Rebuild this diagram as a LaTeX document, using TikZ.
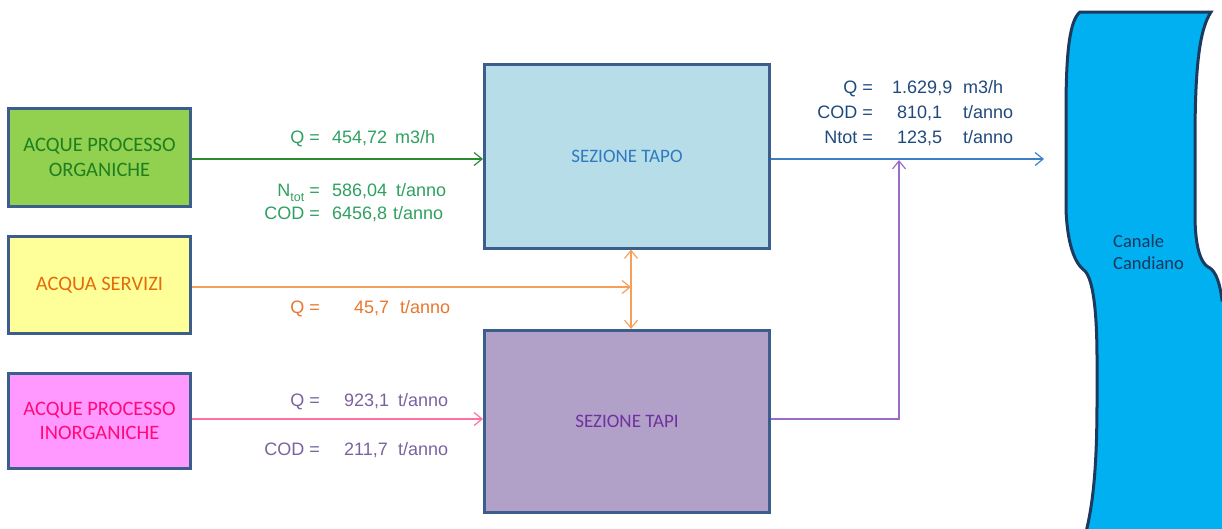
\documentclass[tikz,border=0pt]{standalone}
\usepackage{fontspec}
\usetikzlibrary{arrows.meta}
\newfontfamily\calfont{Carlito}
\newfontfamily\labfont{Liberation Sans}
\definecolor{boxborder}{HTML}{3B5E8C}
\definecolor{orgfill}{HTML}{92D050}
\definecolor{orgtext}{HTML}{1F7F1F}
\definecolor{servfill}{HTML}{FFFF99}
\definecolor{servtext}{HTML}{E46C0A}
\definecolor{inorgfill}{HTML}{FF99FF}
\definecolor{inorgtext}{HTML}{FF0A78}
\definecolor{tapofill}{HTML}{B7DDE8}
\definecolor{tapotext}{HTML}{2E7BC0}
\definecolor{tapifill}{HTML}{B1A0C7}
\definecolor{tapitext}{HTML}{7030A0}
\definecolor{canalfill}{HTML}{00B0F0}
\definecolor{canalborder}{HTML}{1C3A5E}
\definecolor{canaltext}{HTML}{17375E}
\definecolor{greenline}{HTML}{2B8A2B}
\definecolor{greenlab}{HTML}{2FA060}
\definecolor{orangeline}{HTML}{F5A05A}
\definecolor{orangelab}{HTML}{E8772E}
\definecolor{pinkline}{HTML}{FF6FA0}
\definecolor{pinklab}{HTML}{7A62A0}
\definecolor{outline}{HTML}{3C7FC4}
\definecolor{outlab}{HTML}{1F497D}
\definecolor{purpleline}{HTML}{9B6BC9}
\begin{document}
\begin{tikzpicture}[x=1pt,y=-1pt,
  box/.style={draw=boxborder, line width=3pt, inner sep=0pt, align=center},
  srcfont/.style={font=\calfont\fontsize{20.5}{24.5}\selectfont},
  secfont/.style={font=\calfont\fontsize{19}{22}\selectfont},
  lab/.style={inner sep=0pt, font=\labfont\fontsize{18}{21}\selectfont},
  flow/.style={line width=1.2pt, -{Straight Barb[length=8pt,width=13pt]}},
  dflow/.style={line width=1.2pt, {Straight Barb[length=8pt,width=13pt]}-{Straight Barb[length=8pt,width=13pt]}}]
\useasboundingbox (0,0) rectangle (1222,528);
% canal
\draw[fill=canalfill, draw=canalborder, line width=3pt]
  (1080,12) -- (1211,12)
  .. controls (1199,30) and (1195,70) .. (1195,140) -- (1195,215)
  .. controls (1195,245) and (1200,262) .. (1208,267)
  .. controls (1213,269) and (1219,276) .. (1222,300)
  -- (1226,300) -- (1226,532) -- (1086,532)
  .. controls (1094,500) and (1097,460) .. (1097,400) -- (1097,360)
  .. controls (1097,310) and (1093,280) .. (1085,271)
  .. controls (1081,268) and (1068,258) .. (1066,210) -- (1066,110)
  .. controls (1066,50) and (1070,20) .. (1080,12) -- cycle;
\node[anchor=base west, inner sep=0pt, text=canaltext, font=\calfont\fontsize{18.5}{22}\selectfont] (cn1) at (1113,247) {Canale};
\node[anchor=base west, inner sep=0pt, text=canaltext, font=\calfont\fontsize{18.5}{22}\selectfont] (cn2) at (1113,269) {Candiano};
% boxes
\node[box, srcfont, fill=orgfill, text=orgtext, minimum width=182pt, minimum height=98pt] (org) at (99.5,157.5) {ACQUE PROCESSO\\ORGANICHE};
\node[box, srcfont, fill=servfill, text=servtext, minimum width=182pt, minimum height=97pt] (serv) at (99.5,285) {ACQUA SERVIZI};
\node[box, srcfont, fill=inorgfill, text=inorgtext, minimum width=182pt, minimum height=95pt] (inorg) at (99.5,421) {ACQUE PROCESSO\\INORGANICHE};
\node[box, secfont, fill=tapofill, text=tapotext, minimum width=285pt, minimum height=184pt] (tapo) at (627,156) {SEZIONE TAPO};
\node[box, secfont, fill=tapifill, text=tapitext, minimum width=285pt, minimum height=182pt] (tapi) at (627,421.5) {SEZIONE TAPI};
% coordinates
\coordinate (vx) at (631,288);
\coordinate (outend) at (1044,159);
\coordinate (jn) at (899,160);
% connectors
\draw[flow, greenline] ([yshift=-1.5pt]org.east) -- ([yshift=-1.5pt]org.east -| tapo.west);
\draw[flow, orangeline] ([yshift=-2pt]serv.east) -- ([yshift=-2pt]serv.east -| vx);
\draw[dflow, orangeline] (tapo.south -| vx) -- (tapi.north -| vx);
\draw[flow, pinkline] ([yshift=2pt]inorg.east) -- ([yshift=2pt]inorg.east -| tapi.west);
\draw[flow, outline] (tapo.east |- outend) -- (outend);
\draw[flow, purpleline] ([yshift=2.5pt]tapi.east) -| (jn);
% organic labels
\node[lab, text=greenlab, anchor=base east] (a1) at (320,143) {Q =};
\node[lab, text=greenlab, anchor=base west] (a2) at (332,143) {454,72};
\node[lab, text=greenlab, anchor=base west] (a3) at (395,143) {m3/h};
\node[lab, text=greenlab, anchor=base east] (a4) at (320,196) {N\raisebox{-0.28em}{\fontsize{12.5}{12.5}\selectfont tot} =};
\node[lab, text=greenlab, anchor=base west] (a5) at (332,196) {586,04};
\node[lab, text=greenlab, anchor=base west] (a6) at (396,196) {t/anno};
\node[lab, text=greenlab, anchor=base east] (a7) at (320,219) {COD =};
\node[lab, text=greenlab, anchor=base west] (a8) at (332,219) {6456,8};
\node[lab, text=greenlab, anchor=base west] (a9) at (393,219) {t/anno};
% service labels
\node[lab, text=orangelab, anchor=base east] (b1) at (320,313) {Q =};
\node[lab, text=orangelab, anchor=base west] (b2) at (354,313) {45,7};
\node[lab, text=orangelab, anchor=base west] (b3) at (400,313) {t/anno};
% inorganic labels
\node[lab, text=pinklab, anchor=base east] (c1) at (320,406) {Q =};
\node[lab, text=pinklab, anchor=base west] (c2) at (344,406) {923,1};
\node[lab, text=pinklab, anchor=base west] (c3) at (398,406) {t/anno};
\node[lab, text=pinklab, anchor=base east] (c4) at (320,455) {COD =};
\node[lab, text=pinklab, anchor=base west] (c5) at (344,455) {211,7};
\node[lab, text=pinklab, anchor=base west] (c6) at (398,455) {t/anno};
% output labels
\node[lab, text=outlab, anchor=base east] (d1) at (873,93) {Q =};
\node[lab, text=outlab, anchor=base west] (d2) at (892,93) {1.629,9};
\node[lab, text=outlab, anchor=base west] (d3) at (963,93) {m3/h};
\node[lab, text=outlab, anchor=base east] (d4) at (873,118) {COD =};
\node[lab, text=outlab, anchor=base west] (d5) at (897,118) {810,1};
\node[lab, text=outlab, anchor=base west] (d6) at (963,118) {t/anno};
\node[lab, text=outlab, anchor=base east] (d7) at (873,143) {Ntot =};
\node[lab, text=outlab, anchor=base west] (d8) at (897,143) {123,5};
\node[lab, text=outlab, anchor=base west] (d9) at (963,143) {t/anno};
\end{tikzpicture}
\end{document}
